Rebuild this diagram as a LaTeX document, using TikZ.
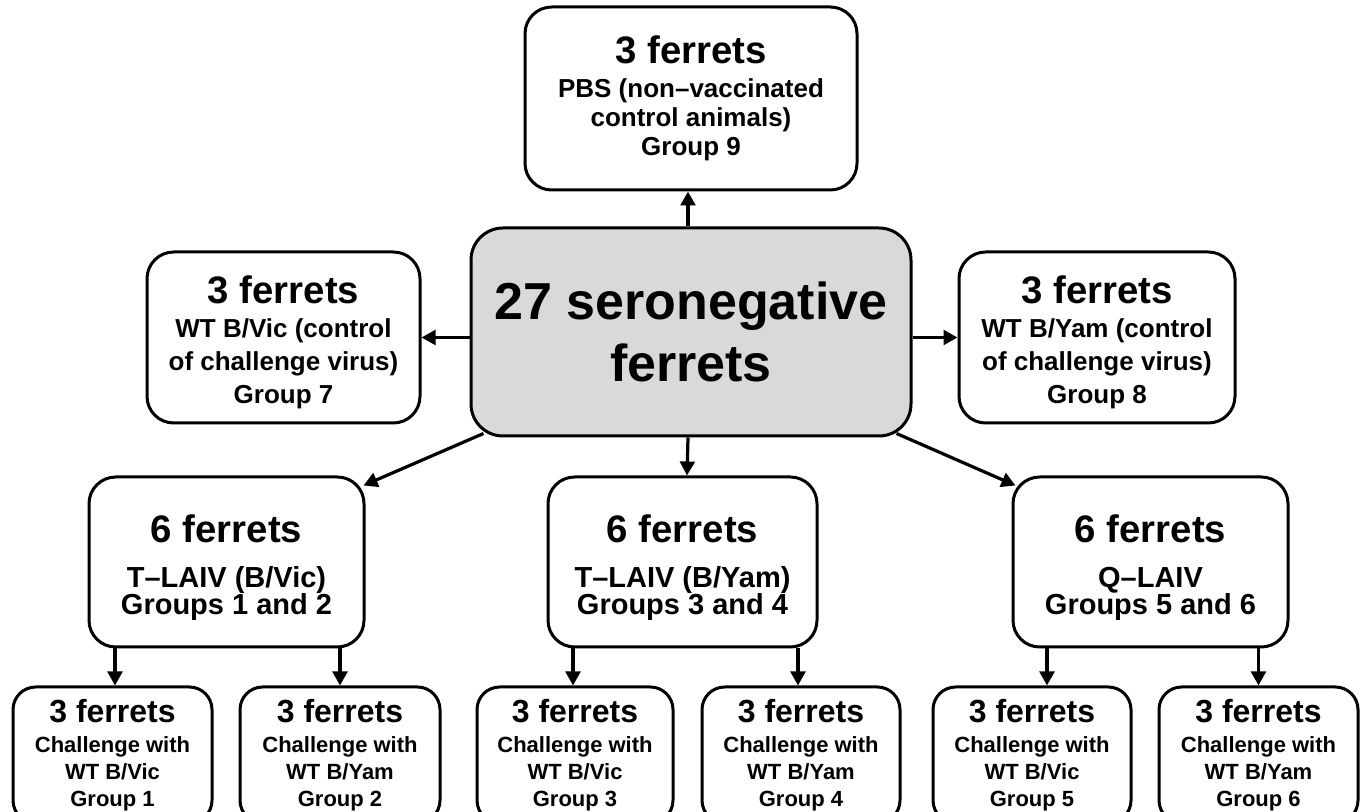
\documentclass[tikz,border=0pt]{standalone}
\usepackage{fontspec}
\setmainfont{Liberation Sans}
\usetikzlibrary{arrows.meta,calc}
\definecolor{boxgray}{HTML}{D9D9D9}
\newcommand\ttlA[1]{{\fontsize{28.75pt}{28.75pt}\selectfont #1}}
\newcommand\ttlB[1]{{\fontsize{24pt}{24pt}\selectfont #1}}
\AtBeginDocument{\lineskiplimit=-10pt\relax}
\begin{document}
\begin{tikzpicture}[x=0.75pt,y=-0.75pt,
  box/.style={draw, line width=2.25pt, rounded corners=20pt, fill=white, align=center, inner sep=0pt},
  bx/.style 2 args={minimum width=#1*0.75pt, minimum height=#2*0.75pt},
  cbox/.style={fill=boxgray, rounded corners=24pt, font=\bfseries\fontsize{39pt}{46.5pt}\selectfont},
  subtop/.style={font=\bfseries\fontsize{19.5pt}{21.75pt}\selectfont},
  subside/.style={font=\bfseries\fontsize{19.5pt}{24.75pt}\selectfont},
  submid/.style={font=\bfseries\fontsize{21.75pt}{20.25pt}\selectfont},
  subbot/.style={rounded corners=17pt, font=\bfseries\fontsize{16.5pt}{20.25pt}\selectfont},
  arr/.style={line width=2.4pt, -{Triangle[length=10.5pt,width=11pt]}}]
\useasboundingbox (0,0) rectangle (1365,812);

% top and centre
\node[box, subtop, bx={332}{183}] (g9) at (691,98.5)
  {\ttlA{3 ferrets}\\[3.75pt] PBS (non–vaccinated\\ control animals)\\ Group 9};
\node[box, cbox, bx={440}{208}] (c) at (691,332) {27 seronegative\\ ferrets};

% side boxes
\node[box, subside, bx={273}{171}] (g7) at (283.5,337.5)
  {\ttlA{\rule{0pt}{27.5pt}3 ferrets}\\[0.75pt] WT B/Vic (control\\ of challenge virus)\\ Group 7};
\node[box, subside, bx={276}{171}] (g8) at (1097,337.5)
  {\ttlA{\rule{0pt}{27.5pt}3 ferrets}\\[0.75pt] WT B/Yam (control\\ of challenge virus)\\ Group 8};

% middle row
\node[box, submid, bx={275}{170}] (g12) at (226.5,562)
  {\ttlA{\rule{0pt}{29pt}6 ferrets}\\[13.5pt] T–LAIV (B/Vic)\\ Groups 1 and 2};
\node[box, submid, bx={269}{170}] (g34) at (682.5,562)
  {\ttlA{\rule{0pt}{29pt}6 ferrets}\\[13.5pt] T–LAIV (B/Yam)\\ Groups 3 and 4};
\node[box, submid, bx={275}{170}] (g56) at (1150.5,562)
  {\ttlA{\rule{0pt}{29pt}6 ferrets}\\[13.5pt] Q–LAIV\\ Groups 5 and 6};

% bottom row
\node[box, subbot, bx={199}{136}] (b1) at (112.5,755)
  {\ttlB{3 ferrets}\\[2.25pt] Challenge with\\ WT B/Vic\\ Group 1};
\node[box, subbot, bx={200}{136}] (b2) at (340,755)
  {\ttlB{3 ferrets}\\[2.25pt] Challenge with\\ WT B/Yam\\ Group 2};
\node[box, subbot, bx={196}{136}] (b3) at (575,755)
  {\ttlB{3 ferrets}\\[2.25pt] Challenge with\\ WT B/Vic\\ Group 3};
\node[box, subbot, bx={198}{136}] (b4) at (801,755)
  {\ttlB{3 ferrets}\\[2.25pt] Challenge with\\ WT B/Yam\\ Group 4};
\node[box, subbot, bx={198}{136}] (b5) at (1032,755)
  {\ttlB{3 ferrets}\\[2.25pt] Challenge with\\ WT B/Vic\\ Group 5};
\node[box, subbot, bx={199}{136}] (b6) at (1258.5,755)
  {\ttlB{3 ferrets}\\[2.25pt] Challenge with\\ WT B/Yam\\ Group 6};

% arrows from the centre
\draw[arr] ($(c.north)+(-3,0)$) -- ($(g9.south)+(-3,0)$);
\draw[arr] (c.west |- g7.east) -- (g7.east);
\draw[arr] (c.east |- g8.west) -- (g8.west);
\draw[arr] ($(c.south)+(-3,0)$) -- ($(g34.north)+(4.5,0)$);
\draw[arr] ($(c.south west)+(14,-4)$) -- ($(g12.north east)+(-2,10)$);
\draw[arr] ($(c.south east)+(-16,-4)$) -- ($(g56.north west)+(4,10)$);

% arrows to the challenge groups
\coordinate (a1) at ($(b1.north)+(2.5,0)$);
\coordinate (a2) at (b2.north);
\coordinate (a3) at ($(b3.north)+(-2,0)$);
\coordinate (a4) at ($(b4.north)+(-3,0)$);
\coordinate (a5) at ($(b5.north)+(15,0)$);
\coordinate (a6) at (b6.north);
\draw[arr] (g12.south -| a1) -- (a1);
\draw[arr] (g12.south -| a2) -- (a2);
\draw[arr] (g34.south -| a3) -- (a3);
\draw[arr] (g34.south -| a4) -- (a4);
\draw[arr] (g56.south -| a5) -- (a5);
\draw[arr] (g56.south -| a6) -- (a6);
\end{tikzpicture}
\end{document}
